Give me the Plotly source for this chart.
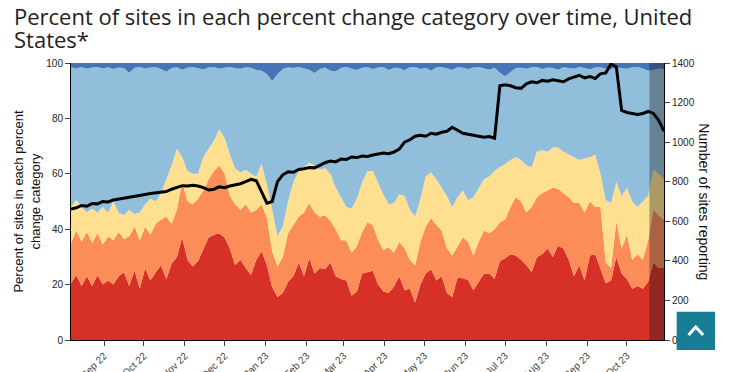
import plotly.graph_objects as go
import pandas as pd

# ---------------- data ----------------
start_date = "2022-08-07"
n_points = 113
step = "4D"
dates = pd.date_range(start_date, periods=n_points, freq=step)

# cumulative top of each band (percent of sites)
red_top = [20.5, 23.5, 19.5, 23, 19.5, 23.5, 20, 21.5, 20, 23,
           24.5, 19.5, 25, 18.5, 26, 21.5, 24.5, 27, 22, 27.5,
           30, 37, 29, 26.5, 28.5, 33, 37, 38, 38.5,
           37, 33, 27, 29, 26, 23.5, 29, 32, 27, 19,
           15.5, 17, 21, 23, 28, 23, 29.5, 24, 26, 25.5,
           28, 23, 22, 21.5, 16, 17.5, 24, 24.5,
           25, 20, 17.5, 17, 19.3, 23, 18, 18.5, 13.5, 20,
           24, 25.5, 21.5, 23, 17, 15.5, 22.5, 22.3, 21.7, 18,
           21, 24, 24, 22, 28.5, 29.5, 31, 30.5,
           29, 27, 24.5, 30, 31, 33, 30, 34, 33, 29,
           23, 27, 21.5, 30.5, 31, 26, 20.5, 21.5, 30, 24,
           22, 18.5, 19.5, 18.5, 21, 28, 26, 26]

orange_top = [35, 39.5, 35.5, 39, 35, 38.5, 34.5, 37.5, 36, 39,
              36.5, 37.5, 41, 36, 41, 38, 42, 43.5, 44.5, 42,
              47, 57, 50, 49, 51, 54, 58, 61, 63,
              60, 52, 49, 47, 49, 46, 47, 49, 44, 32,
              26.5, 30, 38.5, 41.5, 44.5, 46, 49.5, 46, 44.5, 45,
              43, 40, 36, 36, 31.5, 34, 39, 42.5,
              41.5, 36, 32.5, 33.5, 31.5, 35.5, 33, 29, 27, 35.5,
              41, 44, 41.5, 39.5, 33, 30.5, 34, 37, 35.5, 30.5,
              35.5, 39.5, 38.5, 40, 42.5, 43.5, 48, 51.5,
              50, 46, 48, 51.5, 53, 54, 55, 54.5, 53, 51.5,
              49.5, 49.5, 46, 50, 48, 48, 28, 26, 43, 33,
              38, 29, 31, 29, 36, 47, 45, 43.5]

yellow_top = [48, 50.5, 48, 46, 47.5, 46, 48, 46, 50, 46,
              45, 47, 45.5, 46, 49, 51, 50, 53, 58, 63,
              69, 66, 61, 60, 60, 66, 69, 72, 76,
              73, 67, 62, 60.5, 61.5, 60, 59, 63.5, 56, 47,
              37.5, 41, 50, 57, 61, 62.5, 64, 63, 61.5, 62,
              60, 55, 51.5, 48, 47.5, 51, 57, 61,
              61, 56.5, 52.5, 49, 49.5, 52.5, 52, 47, 44.5, 51,
              59, 60.5, 58, 55, 52, 48, 51.5, 54, 50.5, 51.5,
              55, 58, 59, 61, 62.5, 63.5, 65, 66,
              65, 63, 62.5, 68, 68.5, 68, 69.5, 69.5, 68, 67,
              66, 65, 65.5, 66, 67, 60, 50.5, 49.5, 57, 52,
              55, 50, 48, 50, 52, 61.5, 60, 58]

lightblue_top = [98.5, 98, 98.6, 97.9, 98.4, 98.6, 98, 98.5, 97.8, 98.4, 98.2,
                 96.5,
                 98.3, 98.6, 98, 98.4, 98.5, 97.8,
                 96.8,
                 98.2, 98.5, 97.6, 98.3, 98.6, 98.1, 97.7, 98.4, 98.5, 98,
                 98.4, 98.6, 98.2, 97.9, 98.5, 98.3, 97.5, 97.2, 96,
                 93.5,
                 96, 97.8, 98.5, 98.2,
                 98.6, 98, 97.6, 96.4, 97.8, 98.4, 97.2, 97, 98.2, 98.6, 97.9, 97.5, 98.3, 98.5,
                 97.8, 98.4, 98.6, 97.5, 98.3, 98.2, 97.4, 98.5, 98.6, 97.8,
                 98.3, 97.2, 98.4, 98.6, 98, 97.6, 98.5, 98.3, 97.8, 98.4,
                 98.6, 98.1, 97.6, 98.3, 96.5, 95.2, 96.8, 98.2,
                 98.3, 97.9, 98.5, 98.6, 97.8, 98.4, 98.2, 97.6, 98.5, 98.3,
                 97.9, 98.6, 98.1, 97.7, 98.4, 98.5, 98, 97.8, 98.4, 98.2,
                 97.9, 98.5, 98.6, 98, 97.2, 97.5, 98, 97.8]

total_top = [100] * n_points

sites_reporting = [662, 668, 680, 676, 690, 688, 700, 698, 708, 712,
                   716, 720, 726, 730, 735, 740, 744, 748, 750, 762,
                   772, 780, 778, 782, 778, 770, 758, 762, 774,
                   770, 778, 783, 790, 800, 812, 805, 745, 692, 700,
                   800, 835, 850, 848, 862, 866, 872, 870, 885, 896,
                   905, 900, 915, 912, 925, 922, 930, 928,
                   935, 940, 945, 942, 950, 965, 1000, 1012, 1030, 1035,
                   1030, 1045, 1040, 1050, 1055, 1075, 1058, 1045, 1040, 1035,
                   1030, 1025, 1028, 1020, 1285, 1290, 1285, 1275,
                   1272, 1295, 1305, 1300, 1312, 1308, 1315, 1310, 1305, 1320,
                   1330, 1338, 1325, 1332, 1322, 1345, 1350, 1395, 1380, 1160,
                   1150, 1145, 1140, 1145, 1155, 1145, 1110, 1055]

incomplete_start = "2023-10-18"

title_line1 = "Percent of sites in each percent change category over time, United"
title_line2 = "States*"
left_title = "Percent of sites in each percent<br>change category"
right_title = "Number of sites reporting"

# ---------------- styles ----------------
RED = "#D73027"
ORANGE = "#FC8D59"
YELLOW = "#FEE090"
LBLUE = "#91BFDB"
DBLUE = "#4575B4"

fig = go.Figure()
bands = [(red_top, RED, "tozeroy"), (orange_top, ORANGE, "tonexty"),
         (yellow_top, YELLOW, "tonexty"), (lightblue_top, LBLUE, "tonexty"),
         (total_top, DBLUE, "tonexty")]
for vals, col, fill in bands:
    fig.add_trace(go.Scatter(x=dates, y=vals, mode="lines", fill=fill,
                             fillcolor=col, line=dict(width=0, color=col),
                             hoverinfo="skip", showlegend=False))

fig.add_trace(go.Scatter(x=dates, y=sites_reporting, mode="lines", yaxis="y2",
                         line=dict(color="black", width=3), showlegend=False))

tickfont = dict(family="Liberation Sans, Arial", size=10, color="#222")

# the page body has an 8px margin, so the figure is sized to fit the window
fig.update_layout(
    width=728, height=364,
    margin=dict(l=63, r=72, t=55, b=32),
    paper_bgcolor="white", plot_bgcolor="white",
    xaxis=dict(type="date", range=[dates[0], dates[-1]], tickformat="%b %y",
               dtick="M1", tick0="2022-09-01", tickangle=-45, ticks="outside",
               ticklen=5, showline=True, linecolor="black", showgrid=False,
               zeroline=False, tickfont=dict(family="Liberation Sans, Arial", size=10, color="#444"),
               automargin=False),
    yaxis=dict(range=[0, 100], dtick=20, ticks="outside", ticklen=5,
               showline=True, linecolor="black", showgrid=False, zeroline=False,
               tickfont=tickfont, automargin=False,
               title=dict(text=left_title, standoff=2,
                          font=dict(family="Liberation Sans, Arial", size=13, color="#111"))),
    yaxis2=dict(range=[0, 1400], dtick=200, overlaying="y", side="right",
                ticks="outside", ticklen=5, showline=True, linecolor="black",
                showgrid=False, zeroline=False, tickfont=tickfont, automargin=False),
    shapes=[
        dict(type="rect", xref="x", yref="paper", x0=incomplete_start, x1=dates[-1],
             y0=0, y1=1, fillcolor="rgba(20,20,20,0.35)", line=dict(width=0), layer="above"),
        dict(type="rect", xref="paper", yref="paper", x0=1.0214, x1=1.086,
             y0=-0.036, y1=0.102, fillcolor="#177D93", line=dict(width=0), layer="above"),
        dict(type="path", xref="paper", yref="paper",
             path="M 1.0413,0.018 L 1.0535,0.047 L 1.066,0.018",
             line=dict(color="white", width=3), layer="above"),
    ],
    annotations=[
        dict(text=title_line1, xref="paper", yref="paper", x=-0.0995, y=1.17,
             xanchor="left", yanchor="middle", showarrow=False,
             font=dict(family="Open Sans", size=22, color="#222")),
        dict(text=title_line2, xref="paper", yref="paper", x=-0.0995, y=1.085,
             xanchor="left", yanchor="middle", showarrow=False,
             font=dict(family="Open Sans", size=22, color="#222")),
        dict(text=right_title, xref="paper", yref="paper", x=1.068, y=0.5,
             xanchor="center", yanchor="middle", textangle=90, showarrow=False,
             font=dict(family="Liberation Sans, Arial", size=14, color="#111")),
    ],
)

fig.write_html("out.html")
